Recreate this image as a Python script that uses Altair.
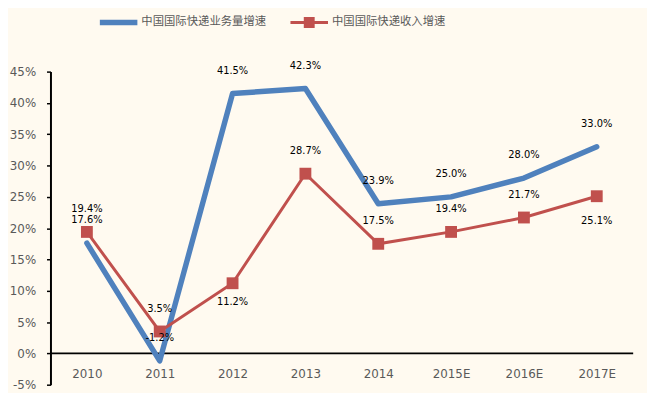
import altair as alt
import pandas as pd

years = ["2010", "2011", "2012", "2013", "2014", "2015E", "2016E", "2017E"]
volume_growth = [17.6, -1.2, 41.5, 42.3, 23.9, 25.0, 28.0, 33.0]
revenue_growth = [19.4, 3.5, 11.2, 28.7, 17.5, 19.4, 21.7, 25.1]
series_names = ["中国国际快递业务量增速", "中国国际快递收入增速"]
y_ticks = [-5, 0, 5, 10, 15, 20, 25, 30, 35, 40, 45]

BLUE = "#4F81BD"
RED = "#C0504D"
GRAY = "#595959"
BG = "#FFFAF0"

df = pd.DataFrame({
    "year": years * 2,
    "series": [series_names[0]] * len(years) + [series_names[1]] * len(years),
    "value": volume_growth + revenue_growth,
})

base = alt.Chart(df).transform_calculate(
    label="replace(format(datum.value, '.1f'), '\u2212', '-') + '%'"
)

x_enc = alt.X(
    "year:N", sort=years, scale=alt.Scale(type="point", padding=0.5),
    axis=alt.Axis(title=None, orient="bottom", offset=-32, domain=False, ticks=False,
                  tickSize=0, labelPadding=16, labelAngle=0, labelColor=GRAY,
                  labelFont="DejaVu Sans", labelFontSize=12),
)
y_axis = alt.Axis(title=None, values=y_ticks, labelExpr="datum.value + '%'", grid=False,
                  labelOverlap=False, labelBound=False, tickCount=11,
                  domainColor="black", domainWidth=2, tickColor="black", tickWidth=1.5,
                  tickSize=4, labelPadding=11, labelColor=GRAY, labelFont="DejaVu Sans",
                  labelFontSize=12)
y_scale = alt.Scale(domain=[-5, 45], nice=False, zero=False)
y_enc = alt.Y("value:Q", scale=y_scale, axis=y_axis)

is_blue = alt.datum.series == series_names[0]
is_red = alt.datum.series == series_names[1]

zero_rule = alt.Chart(pd.DataFrame({"value": [0]})).mark_rule(color="black", strokeWidth=2).encode(
    y=alt.Y("value:Q", scale=y_scale, axis=y_axis)
)

blue_line = base.transform_filter(is_blue).mark_line(
    color=BLUE, strokeWidth=5.5, strokeCap="round", strokeJoin="round"
).encode(x=x_enc, y=y_enc)

red_line = base.transform_filter(is_red).mark_line(color=RED, strokeWidth=3).encode(x=x_enc, y=y_enc)

red_pts = base.transform_filter(is_red).mark_square(color=RED, size=144, opacity=1, filled=True).encode(
    x=x_enc, y=y_enc
)

txt = dict(font="DejaVu Sans", fontSize=10, color="black", baseline="middle", align="center")

blue_lbl = base.transform_filter(is_blue).mark_text(dy=-23, **txt).encode(x=x_enc, y=y_enc, text="label:N")
red_lbl_above = base.transform_filter(is_red).transform_filter(
    "datum.year != '2012' && datum.year != '2017E'"
).mark_text(dy=-23, **txt).encode(x=x_enc, y=y_enc, text="label:N")
red_lbl_2012 = base.transform_filter(is_red).transform_filter("datum.year == '2012'").mark_text(
    dy=19, **txt).encode(x=x_enc, y=y_enc, text="label:N")
red_lbl_2017 = base.transform_filter(is_red).transform_filter("datum.year == '2017E'").mark_text(
    dy=25, **txt).encode(x=x_enc, y=y_enc, text="label:N")

path_blue = "M-1,-0.15 L1,-0.15 L1,0.15 L-1,0.15 Z"
path_red = ("M-1,-0.08 H-0.29 V-0.29 H0.29 V-0.08 H1 V0.08 H0.29 V0.29 H-0.29 V0.08 H-1 Z")

legend = alt.Legend(
    title=None, orient="none", legendX=50, legendY=-69, direction="horizontal",
    symbolSize=1444, symbolStrokeWidth=0, symbolOpacity=1, labelFont="Noto Sans CJK SC",
    labelFontSize=11.5, labelColor=GRAY, columnPadding=24, labelOffset=4,
)

legend_layer = base.transform_filter("datum.value > 1000").mark_point(filled=True, opacity=1).encode(
    x=x_enc, y=y_enc,
    color=alt.Color("series:N", scale=alt.Scale(domain=series_names, range=[BLUE, RED]), legend=legend),
    shape=alt.Shape("series:N", scale=alt.Scale(domain=series_names, range=[path_blue, path_red]),
                    legend=legend),
)

chart = alt.layer(
    zero_rule, blue_line, red_line, red_pts, blue_lbl, red_lbl_above, red_lbl_2012, red_lbl_2017,
    legend_layer,
).properties(
    width=590, height=317, autosize="none",
    padding={"left": 43, "top": 62, "right": 14, "bottom": 6},
).configure(background=BG).configure_view(stroke=None)

chart.save("out.html", embed_options={"renderer": "svg", "actions": False})
